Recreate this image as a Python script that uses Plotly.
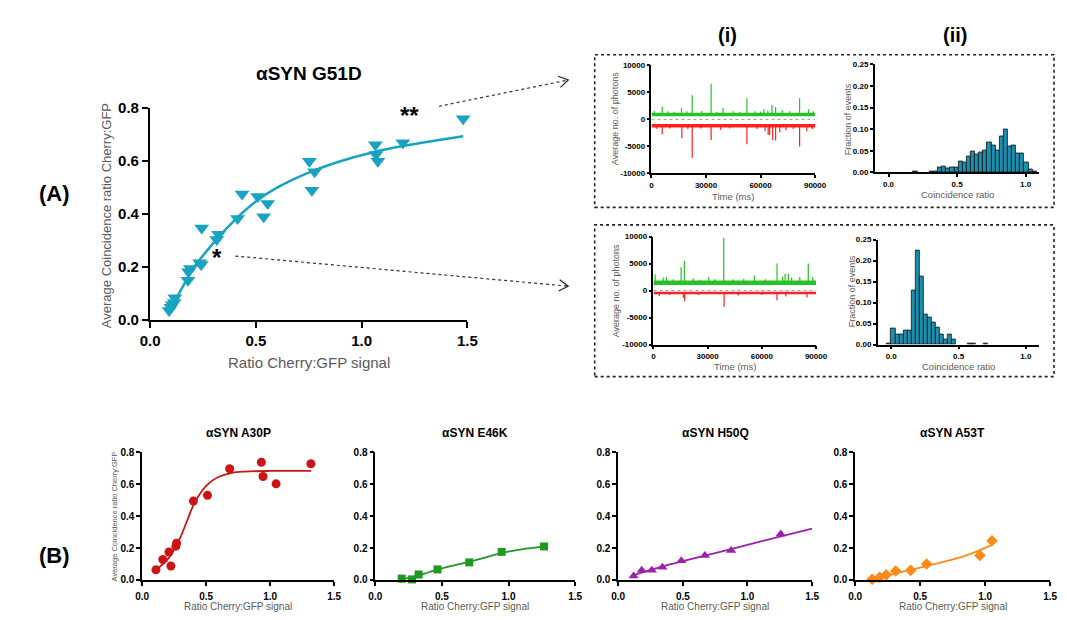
import math
import plotly.graph_objects as go

W, H = 1067, 620
SANS = "Liberation Sans, Arial, Helvetica, sans-serif"
GREY = "#5a5a5a"

# ---------------- (A) αSYN G51D ----------------
g51d_ratio = [0.090, 0.099, 0.105, 0.114, 0.117, 0.179, 0.182, 0.191, 0.235, 0.242,
              0.244, 0.315, 0.324, 0.414, 0.435, 0.509, 0.537, 0.556, 0.753, 0.765,
              0.778, 1.065, 1.068, 1.077, 1.195, 1.480]
g51d_coinc = [0.037, 0.049, 0.058, 0.067, 0.085, 0.151, 0.183, 0.195, 0.217, 0.210,
              0.348, 0.305, 0.324, 0.384, 0.476, 0.467, 0.390, 0.440, 0.600, 0.490,
              0.560, 0.662, 0.625, 0.600, 0.670, 0.760]
g51d_fit_x = [0.095, 0.15, 0.20, 0.30, 0.40, 0.50, 0.60, 0.75, 0.90, 1.05, 1.20, 1.35, 1.48]
g51d_fit_y = [0.037, 0.120, 0.190, 0.292, 0.378, 0.448, 0.500, 0.557, 0.600, 0.633, 0.658, 0.678, 0.694]

# (i) photon traces: spike times (ms) and peak photon counts
trace_top_green_t = [1500, 5900, 9000, 12500, 16500, 19500, 22400, 27600, 32800, 36000, 39400,
                     45000, 48500, 52500, 57000, 60000, 61800, 64000, 66300, 68300, 72000,
                     76000, 81500, 86400, 89000]
trace_top_green_h = [1600, 2350, 1500, 1400, 2100, 1500, 4450, 1550, 6600, 1400, 2100,
                     1500, 1400, 3900, 1500, 1450, 1900, 1600, 2700, 2300, 1700,
                     1500, 3900, 1900, 1500]
trace_top_red_t = [3000, 5900, 10000, 16700, 20000, 22400, 27000, 32800, 38000, 43000, 52500,
                   58000, 62500, 64200, 65000, 66700, 68300, 70600, 74000, 78000, 81500,
                   85500, 88500]
trace_top_red_h = [-1800, -2750, -1700, -3500, -1800, -7100, -1700, -3800, -1900, -1700, -4600,
                   -1800, -2200, -2900, -2900, -3800, -3900, -2400, -2000, -1800, -5000,
                   -2200, -1800]
trace_top_base = [900, -1200]

trace_bot_green_t = [900, 5400, 7200, 11000, 15300, 17100, 22000, 26000, 30600, 34000, 38900,
                     44000, 50000, 55800, 62000, 68400, 71500, 72900, 74700, 76500, 81000,
                     85700, 88200]
trace_bot_green_h = [3000, 2400, 2500, 2100, 4300, 5500, 2300, 2000, 2500, 2100, 9800,
                     2100, 2200, 2800, 2100, 5000, 2600, 3100, 3100, 2400, 2500,
                     5000, 2500]
trace_bot_red_t = [3200, 9000, 16600, 17300, 25000, 39100, 47000, 60000, 68400, 73300, 85000]
trace_bot_red_h = [-1000, -800, -1400, -2000, -800, -3000, -900, -800, -1800, -1100, -1300]
trace_bot_base = [1450, -450]

# (ii) coincidence-ratio histograms (bin left edges, fraction of events)
bin_width = 0.03
hist_top_edges = [0.18, 0.30, 0.33, 0.36, 0.39, 0.42, 0.45, 0.48, 0.51, 0.54, 0.57, 0.60,
                  0.63, 0.66, 0.69, 0.72, 0.75, 0.78, 0.81, 0.84, 0.87, 0.90, 0.93, 0.96,
                  0.99, 1.02, 1.05]
hist_top_frac = [0.002, 0.002, 0.003, 0.012, 0.013, 0.009, 0.011, 0.011, 0.025, 0.022, 0.038, 0.048,
                 0.042, 0.046, 0.052, 0.069, 0.062, 0.052, 0.083, 0.100, 0.060, 0.062, 0.043, 0.043,
                 0.022, 0.007, 0.002]
hist_bot_edges = [-0.03, 0.00, 0.03, 0.06, 0.09, 0.12, 0.15, 0.18, 0.21, 0.24, 0.27, 0.30,
                  0.33, 0.36, 0.39, 0.42, 0.45, 0.57, 0.60, 0.69]
hist_bot_frac = [0.003, 0.037, 0.024, 0.024, 0.033, 0.033, 0.128, 0.225, 0.162, 0.072, 0.065, 0.052,
                 0.040, 0.025, 0.012, 0.024, 0.012, 0.002, 0.002, 0.003]

# ---------------- (B) other variants ----------------
a30p_ratio = [0.107, 0.161, 0.209, 0.224, 0.263, 0.268, 0.400, 0.510, 0.683, 0.931, 0.944, 1.046, 1.318]
a30p_coinc = [0.063, 0.128, 0.175, 0.087, 0.212, 0.230, 0.495, 0.531, 0.698, 0.739, 0.649, 0.603, 0.729]
a30p_fit_x = [0.12, 0.20, 0.25, 0.30, 0.35, 0.40, 0.45, 0.50, 0.55, 0.60, 0.70, 0.80, 1.00, 1.32]
a30p_fit_y = [0.070, 0.130, 0.190, 0.270, 0.370, 0.470, 0.540, 0.590, 0.625, 0.648, 0.672, 0.680, 0.684, 0.684]

e46k_ratio = [0.198, 0.276, 0.325, 0.467, 0.705, 0.949, 1.267]
e46k_coinc = [0.008, 0.003, 0.034, 0.066, 0.110, 0.176, 0.210]
e46k_fit_x = [0.20, 0.30, 0.40, 0.50, 0.60, 0.70, 0.80, 0.90, 1.00, 1.10, 1.27]
e46k_fit_y = [0.005, 0.022, 0.048, 0.073, 0.093, 0.113, 0.135, 0.158, 0.178, 0.192, 0.210]

h50q_ratio = [0.119, 0.182, 0.260, 0.342, 0.488, 0.670, 0.873, 1.257]
h50q_coinc = [0.024, 0.060, 0.060, 0.080, 0.120, 0.154, 0.184, 0.288]
h50q_fit_x = [0.12, 0.20, 0.30, 0.40, 0.50, 0.75, 1.00, 1.25, 1.50]
h50q_fit_y = [0.030, 0.050, 0.074, 0.097, 0.118, 0.168, 0.220, 0.272, 0.322]

a53t_ratio = [0.131, 0.188, 0.239, 0.312, 0.427, 0.550, 0.960, 1.053]
a53t_coinc = [0.004, 0.016, 0.032, 0.056, 0.060, 0.100, 0.154, 0.246]
a53t_fit_x = [0.13, 0.20, 0.30, 0.40, 0.55, 0.70, 0.85, 1.05]
a53t_fit_y = [0.000, 0.016, 0.038, 0.058, 0.087, 0.118, 0.152, 0.218]

variant_titles = ["αSYN A30P", "αSYN E46K", "αSYN H50Q", "αSYN A53T"]
x_ticks = [0.0, 0.5, 1.0, 1.5]
y_ticks = [0.0, 0.2, 0.4, 0.6, 0.8]
photon_ticks = [-10000, -5000, 0, 5000, 10000]
time_ticks = [0, 30000, 60000, 90000]
frac_ticks = [0.0, 0.05, 0.10, 0.15, 0.20, 0.25]
ratio_ticks = [0.0, 0.5, 1.0]

TEAL = "#18a3c0"
HIST = "#1a8fae"


def px(x):
    return x / W


def py(y):
    return 1 - y / H


fig = go.Figure()

# ---- main G51D panel ----
fig.add_trace(go.Scatter(x=g51d_fit_x, y=g51d_fit_y, mode="lines", line=dict(color=TEAL, width=2.5, shape="spline"),
                         xaxis="x", yaxis="y", showlegend=False, hoverinfo="skip"))
fig.add_trace(go.Scatter(x=g51d_ratio, y=g51d_coinc, mode="markers",
                         marker=dict(symbol="triangle-down", size=13, color=TEAL),
                         xaxis="x", yaxis="y", showlegend=False, cliponaxis=False))


def spike_segments(ts, hs, base):
    xs, ys = [], []
    for t, h in zip(ts, hs):
        xs += [t, t, None]
        ys += [base, h, None]
    return xs, ys


def add_photon_traces(xa, ya, gt, gh, rt, rh, base, band):
    for ts, hs, b, col, bw in ((gt, gh, base[0], "#27c224", band[0]), (rt, rh, base[1], "#ff2020", band[1])):
        fig.add_trace(go.Scatter(x=[0, 90000], y=[b, b], mode="lines", line=dict(color=col, width=bw),
                                 xaxis=xa, yaxis=ya, showlegend=False, hoverinfo="skip"))
        sx, sy = spike_segments(ts, hs, b)
        fig.add_trace(go.Scatter(x=sx, y=sy, mode="lines", line=dict(color=col, width=1.2),
                                 xaxis=xa, yaxis=ya, showlegend=False, hoverinfo="skip"))


add_photon_traces("x2", "y2", trace_top_green_t, trace_top_green_h, trace_top_red_t, trace_top_red_h,
                  trace_top_base, (3.5, 3.5))
add_photon_traces("x4", "y4", trace_bot_green_t, trace_bot_green_h, trace_bot_red_t, trace_bot_red_h,
                  trace_bot_base, (4.5, 2.5))

for xa, ya, edges, frac in (("x3", "y3", hist_top_edges, hist_top_frac), ("x5", "y5", hist_bot_edges, hist_bot_frac)):
    fig.add_trace(go.Bar(x=edges, y=frac, width=bin_width, offset=0,
                         marker=dict(color=HIST, line=dict(color="#111111", width=0.8)),
                         xaxis=xa, yaxis=ya, showlegend=False))

variants = [
    (a30p_ratio, a30p_coinc, a30p_fit_x, a30p_fit_y, "circle", 9, "#cc1414"),
    (e46k_ratio, e46k_coinc, e46k_fit_x, e46k_fit_y, "square", 8, "#1e9a22"),
    (h50q_ratio, h50q_coinc, h50q_fit_x, h50q_fit_y, "triangle-up", 9, "#9c1fae"),
    (a53t_ratio, a53t_coinc, a53t_fit_x, a53t_fit_y, "diamond", 9, "#ff8a1c"),
]
for i, (rx, ry, fx, fy, sym, sz, col) in enumerate(variants):
    xa, ya = f"x{6 + i}", f"y{6 + i}"
    fig.add_trace(go.Scatter(x=fx, y=fy, mode="lines", line=dict(color=col, width=1.8, shape="spline"),
                             xaxis=xa, yaxis=ya, showlegend=False, hoverinfo="skip"))
    fig.add_trace(go.Scatter(x=rx, y=ry, mode="markers", marker=dict(symbol=sym, size=sz, color=col),
                             xaxis=xa, yaxis=ya, showlegend=False, cliponaxis=False))


def ax(domain, anchor, rng, tickvals, ticktext, size, lw=1.5, tl=4, standoff=None):
    d = dict(domain=domain, anchor=anchor, range=rng, tickvals=tickvals, ticktext=ticktext,
             showline=True, linecolor="black", linewidth=lw, ticks="outside", ticklen=tl,
             tickwidth=lw, tickcolor="black", showgrid=False, zeroline=False,
             tickfont=dict(family=SANS, size=size, color="black", weight="bold"))
    if standoff is not None:
        d["ticklabelstandoff"] = standoff
    return d


def fmt(vals, pattern):
    return [pattern.format(v) for v in vals]


layout_axes = {}
# main
layout_axes["xaxis"] = ax([px(143), px(467)], "y", [0, 1.5], x_ticks, fmt(x_ticks, "{:.1f}"), 15, 2.2, 6)
layout_axes["yaxis"] = ax([py(320), py(102)], "x", [0, 0.8], y_ticks, fmt(y_ticks, "{:.1f}"), 15, 2.2, 6)
# insets
ph_text = [str(v) for v in photon_ticks]
tm_text = [str(v) for v in time_ticks]
layout_axes["xaxis2"] = ax([px(655), px(822)], "y2", [0, 90000], time_ticks, tm_text, 8, 1.5, 3)
layout_axes["yaxis2"] = ax([py(169), py(58)], "x2", [-10000, 10000], photon_ticks, ph_text, 8, 1.5, 3)
layout_axes["xaxis3"] = ax([px(883), px(1051)], "y3", [-0.1, 1.1], ratio_ticks, fmt(ratio_ticks, "{:.1f}"), 8, 1.5, 3)
layout_axes["yaxis3"] = ax([py(168), py(57)], "x3", [0, 0.25], frac_ticks, fmt(frac_ticks, "{:.2f}"), 8, 1.5, 3)
layout_axes["xaxis4"] = ax([px(657), px(823)], "y4", [0, 90000], time_ticks, tm_text, 8, 1.5, 3)
layout_axes["yaxis4"] = ax([py(345), py(234)], "x4", [-10000, 10000], photon_ticks, ph_text, 8, 1.5, 3)
layout_axes["xaxis5"] = ax([px(886), px(1051)], "y5", [-0.1, 1.1], ratio_ticks, fmt(ratio_ticks, "{:.1f}"), 8, 1.5, 3)
layout_axes["yaxis5"] = ax([py(345), py(237)], "x5", [0, 0.25], frac_ticks, fmt(frac_ticks, "{:.2f}"), 8, 1.5, 3)
# variant panels
b_x_pix = [(135, 331), (373, 577), (621, 819), (863, 1062)]
for i, (x0, x1) in enumerate(b_x_pix):
    n = 6 + i
    layout_axes[f"xaxis{n}"] = ax([px(x0), px(x1)], f"y{n}", [0, 1.5], x_ticks, fmt(x_ticks, "{:.1f}"), 10, 1.6, 4,
                                  standoff=2)
    layout_axes[f"yaxis{n}"] = ax([py(587), py(456)], f"x{n}", [0, 0.8], y_ticks, fmt(y_ticks, "{:.1f}"), 10, 1.6, 4)

annotations = []


def label(text, x, y, size, color="black", bold=False, angle=0):
    annotations.append(dict(text=f"<b>{text}</b>" if bold else text, x=px(x), y=py(y), xref="paper", yref="paper",
                            showarrow=False, xanchor="center", yanchor="middle", textangle=angle,
                            font=dict(family=SANS, size=size, color=color)))


label("(A)", 45, 190, 22, bold=True)
label("(B)", 45, 562, 22, bold=True)
label("(i)", 733, 27, 20, bold=True)
label("(ii)", 965, 27, 20, bold=True)
label("αSYN G51D", 305, 66, 19, bold=True)
label("**", 408, 110, 24, bold=True)
label("*", 211, 256, 24, bold=True)
label("Average Coincidence ratio Cherry:GFP", 98, 212, 13, GREY, angle=-90)
label("Ratio Cherry:GFP signal", 305, 363, 15, GREY)
label("Average no. of photons", 618, 113, 9, GREY, angle=-90)
label("Time (ms)", 738, 193, 9.5, GREY)
label("Average no. of photons", 619, 290, 9, GREY, angle=-90)
label("Time (ms)", 740, 368, 9.5, GREY)
label("Fraction of events", 856, 113, 9, GREY, angle=-90)
label("Coincidence ratio", 967, 191, 9.5, GREY)
label("Fraction of events", 860, 290, 9, GREY, angle=-90)
label("Coincidence ratio", 968, 368, 9.5, GREY)
for i, (x0, x1) in enumerate(b_x_pix):
    label(variant_titles[i], (x0 + x1) / 2, 436, 12, bold=True)
    label("Ratio Cherry:GFP signal", (x0 + x1) / 2, 614, 10, GREY)
label("Average Coincidence ratio Cherry:GFP", 107, 522, 7.5, GREY, angle=-90)

shapes = []
# dotted boxes around the example recordings
for y0, y1 in ((47, 204), (222, 378)):
    shapes.append(dict(type="rect", xref="paper", yref="paper", x0=px(597), x1=px(1066), y0=py(y1), y1=py(y0),
                       line=dict(color="#222222", width=1.6, dash="dot")))
# zero reference lines in the photon traces
for xa, ya in (("x2", "y2"), ("x4", "y4")):
    shapes.append(dict(type="line", xref=xa, yref=ya, x0=0, x1=90000, y0=0, y1=0,
                       line=dict(color="#9a9a9a", width=1, dash="dot")))


def dotted_arrow(p0, p1):
    shapes.append(dict(type="line", xref="paper", yref="paper", x0=px(p0[0]), y0=py(p0[1]),
                       x1=px(p1[0]), y1=py(p1[1]), line=dict(color="#333333", width=1.2, dash="dot")))
    dx, dy = p1[0] - p0[0], p1[1] - p0[1]
    ang = math.atan2(dy, dx)
    arm = 11
    pts = []
    for s in (1, -1):
        a = ang + math.pi - s * math.radians(32)
        pts.append((p1[0] + arm * math.cos(a), p1[1] + arm * math.sin(a)))
    path = (f"M {px(pts[0][0])},{py(pts[0][1])} L {px(p1[0])},{py(p1[1])} "
            f"L {px(pts[1][0])},{py(pts[1][1])}")
    shapes.append(dict(type="path", xref="paper", yref="paper", path=path,
                       line=dict(color="#222222", width=1.2)))


dotted_arrow((438, 100), (570, 73))
dotted_arrow((230, 254), (570, 285))

fig.update_layout(
    width=W, height=H, margin=dict(l=0, r=0, t=0, b=0),
    paper_bgcolor="white", plot_bgcolor="white",
    font=dict(family=SANS, color="black"),
    annotations=annotations, shapes=shapes, bargap=0,
    **layout_axes,
)

fig.write_html("out.html", config={"displayModeBar": False})
